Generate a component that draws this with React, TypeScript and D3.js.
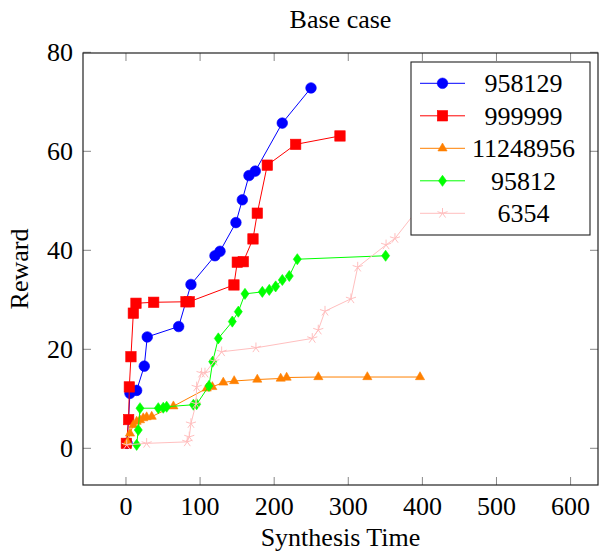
import React from "react";
import * as d3 from "d3";

const title = "Base case";
const xLabel = "Synthesis Time";
const yLabel = "Reward";
const xTicks = [0, 100, 200, 300, 400, 500, 600];
const yTicks = [0, 20, 40, 60, 80];

const seriesNames = ["958129", "999999", "11248956", "95812", "6354"];
const seriesColors = ["#0000ff", "#ff0000", "#ff8000", "#00ff00", "#ffbfbf"];
const seriesMarks = ["circle", "square", "triangle", "diamond", "star"];

const blueX = [1.5, 5.4, 14.4, 24.7, 28.7, 71.1, 87.7, 120.1, 126.9, 148.4, 157, 166, 174.5, 210.9, 249.7];
const blueY = [1.0, 11.1, 11.7, 16.6, 22.5, 24.6, 33.1, 38.9, 39.8, 45.6, 50.2, 55.1, 56.0, 65.7, 72.8];

const redX = [0.5, 3.6, 4.5, 6.7, 9.9, 13.5, 37.4, 81, 85.4, 145.7, 150.2, 158.3, 171.4, 177.2, 190.7, 229, 288.8];
const redY = [1.0, 5.8, 12.4, 18.5, 27.3, 29.3, 29.5, 29.6, 29.6, 33.0, 37.6, 37.7, 42.3, 47.5, 57.2, 61.4, 63.1];

const orangeX = [2, 5.4, 9.9, 14.4, 18.9, 23.3, 27.9, 34.7, 64, 109, 116.5, 131.3, 146, 177.2, 208.8, 216.8, 259.6, 325.7, 396.8];
const orangeY = [1.2, 3.0, 4.7, 5.4, 5.7, 6.1, 6.3, 6.4, 8.5, 12.1, 12.4, 13.3, 13.6, 13.9, 14.1, 14.3, 14.4, 14.4, 14.4];

const greenX = [14.4, 16.6, 18.9, 43.6, 50.3, 54.9, 91, 95.4, 112, 117, 124.6, 143.5, 151.6, 160.6, 184, 193.4, 202, 211, 220.4, 231.2, 350.4];
const greenY = [0.7, 3.7, 8.1, 8.1, 8.2, 8.4, 8.8, 8.9, 12.6, 17.5, 22.2, 25.6, 27.6, 31.2, 31.6, 32.0, 32.7, 34.0, 34.8, 38.2, 38.9];

const pinkX = [1, 27.9, 82.7, 85.4, 87.7, 94.5, 95.4, 102, 106.6, 119.2, 129.1, 175.4, 251.4, 259.5, 268.6, 303.6, 312.7, 351, 363, 395, 580];
const pinkY = [0.7, 1.0, 1.3, 2.3, 5.0, 9.0, 12.4, 15.2, 15.2, 17.6, 19.5, 20.3, 22.2, 23.9, 27.7, 30.2, 36.6, 41.1, 42.4, 48.5, 57];

const seriesX = [blueX, redX, orangeX, greenX, pinkX];
const seriesY = [blueY, redY, orangeY, greenY, pinkY];

const W = 599;
const H = 556;
const L = 83;
const R = 598;
const T = 53;
const B = 485;
const FONT = "Liberation Serif";
const FS = 26;
const MR = 5.3;

function Marker({ kind, x, y, color }: { kind: string; x: number; y: number; color: string }) {
  if (kind === "circle") return <circle cx={x} cy={y} r={MR} fill={color} stroke={color} strokeWidth={0.6} />;
  if (kind === "square")
    return <rect x={x - 5.2} y={y - 5.2} width={10.4} height={10.4} fill={color} stroke={color} strokeWidth={0.6} />;
  if (kind === "triangle") {
    const pts = [90, 210, 330].map((a) => {
      const r = (a * Math.PI) / 180;
      return `${x + MR * Math.cos(r)},${y - MR * Math.sin(r)}`;
    });
    return <polygon points={pts.join(" ")} fill={color} stroke={color} strokeWidth={0.6} />;
  }
  if (kind === "diamond") {
    const h = MR * 1.05;
    const pts = `${x},${y - h} ${x + h * 0.72},${y} ${x},${y + h} ${x - h * 0.72},${y}`;
    return <polygon points={pts} fill={color} stroke={color} strokeWidth={0.6} />;
  }
  const segs = [0, 1, 2, 3, 4].map((k) => {
    const r = ((90 + 72 * k) * Math.PI) / 180;
    return <line key={k} x1={x} y1={y} x2={x + MR * Math.cos(r)} y2={y - MR * Math.sin(r)} stroke={color} strokeWidth={1} />;
  });
  return <g>{segs}</g>;
}

const textStyle = { fontFamily: FONT, fontSize: FS } as React.CSSProperties;

export default function App() {
  const x = d3.scaleLinear().domain([-58, 637]).range([L, R]);
  const y = d3.scaleLinear().domain([0, 80]).range([448.3, 52.3]);
  const line = d3
    .line<[number, number]>()
    .x((d) => x(d[0]))
    .y((d) => y(d[1]));

  const legX = 411;
  const legY = 62;
  const legW = 179;
  const legH = 173;

  return (
    <svg width={W} height={H} style={{ position: "absolute", left: 0, top: 0, background: "#fff" }}>
      <defs>
        <clipPath id="plotclip">
          <rect x={L} y={T} width={R - L} height={B - T} />
        </clipPath>
      </defs>
      <rect x={0} y={0} width={W} height={H} fill="#fff" />
      <text x={(L + R) / 2} y={28} textAnchor="middle" style={textStyle}>
        {title}
      </text>
      {xTicks.map((t) => (
        <g key={"xt" + t}>
          <line x1={x(t)} x2={x(t)} y1={B} y2={B - 8} stroke="#888" strokeWidth={1} />
          <line x1={x(t)} x2={x(t)} y1={T} y2={T + 8} stroke="#888" strokeWidth={1} />
          <text x={x(t)} y={515} textAnchor="middle" style={textStyle}>
            {String(t)}
          </text>
        </g>
      ))}
      {yTicks.map((t) => (
        <g key={"yt" + t}>
          <line x1={L} x2={L + 8} y1={y(t)} y2={y(t)} stroke="#888" strokeWidth={1} />
          <line x1={R} x2={R - 8} y1={y(t)} y2={y(t)} stroke="#888" strokeWidth={1} />
          <text x={73} y={y(t) + 9} textAnchor="end" style={textStyle}>
            {String(t)}
          </text>
        </g>
      ))}
      <text x={(L + R) / 2} y={546} textAnchor="middle" style={textStyle}>
        {xLabel}
      </text>
      <text transform={`translate(28, ${(T + B) / 2}) rotate(-90)`} textAnchor="middle" style={textStyle}>
        {yLabel}
      </text>
      <g clipPath="url(#plotclip)">
        {seriesNames.map((name, i) => {
          const pts: [number, number][] = seriesX[i].map((v, j) => [v, seriesY[i][j]]);
          return (
            <g key={name}>
              <path d={line(pts) || ""} fill="none" stroke={seriesColors[i]} strokeWidth={1} />
              {pts.map((p, j) => (
                <Marker key={j} kind={seriesMarks[i]} x={x(p[0])} y={y(p[1])} color={seriesColors[i]} />
              ))}
            </g>
          );
        })}
      </g>
      <rect x={L} y={T} width={R - L} height={B - T} fill="none" stroke="#222" strokeWidth={1.2} />
      <rect x={legX} y={legY} width={legW} height={legH} fill="#fff" stroke="#222" strokeWidth={1.1} />
      {seriesNames.map((name, i) => {
        const cy = 83.3 + i * 32.5;
        return (
          <g key={"leg" + name}>
            <line x1={420} x2={465} y1={cy} y2={cy} stroke={seriesColors[i]} strokeWidth={1} />
            <Marker kind={seriesMarks[i]} x={442.5} y={cy} color={seriesColors[i]} />
            <text x={523.5} y={cy + 9} textAnchor="middle" style={textStyle}>
              {name}
            </text>
          </g>
        );
      })}
    </svg>
  );
}
